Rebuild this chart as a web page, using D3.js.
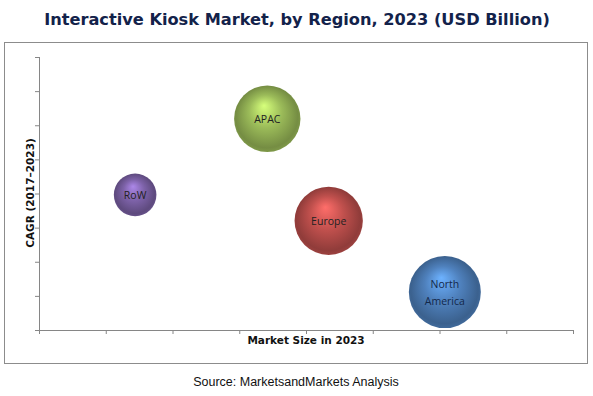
<!DOCTYPE html>
<html>
<head>
<meta charset="utf-8">
<script src="https://cdn.jsdelivr.net/npm/d3@7"></script>
<style>
  body { margin: 0; background: #fff; }
</style>
</head>
<body>
<div id="chart"></div>
<script>
// regions, market size (x), cagr (y), bubble size
var regions = ["RoW", "APAC", "Europe", "North America"];
var marketSize = [1.44, 3.42, 4.34, 6.08];
var cagr = [3.96, 6.19, 3.2, 1.11];
var bubbleSize = [0.35, 0.85, 0.9, 1.0];
var colors = ["#7d62a8", "#9bbb59", "#c0504d", "#4f81bd"];
var xTicks = d3.range(0, 9);
var yTicks = d3.range(0, 9);

var width = 593, height = 396;
var svg = d3.select("#chart").append("svg")
    .attr("width", width)
    .attr("height", height);

// title
svg.append("text")
    .attr("x", 297)
    .attr("y", 25)
    .attr("text-anchor", "middle")
    .style("font-family", "Verdana, 'DejaVu Sans', sans-serif")
    .style("font-weight", "bold")
    .style("font-size", "16.2px")
    .style("fill", "#13224a")
    .text("Interactive Kiosk Market, by Region, 2023 (USD Billion)");

// outer frame
svg.append("rect")
    .attr("x", 4.5).attr("y", 42.5)
    .attr("width", 583).attr("height", 321)
    .style("fill", "none")
    .style("stroke", "#8c8c8c");

var x = d3.scaleLinear().domain([0, 8]).range([39, 573]);
var y = d3.scaleLinear().domain([0, 8]).range([330, 57]);
var r = d3.scaleSqrt().domain([0, 1]).range([0, 36]);

var xAxis = svg.append("g")
    .attr("transform", "translate(0,330)")
    .call(d3.axisBottom(x).tickValues(xTicks).tickSize(4).tickFormat(""));
var yAxis = svg.append("g")
    .attr("transform", "translate(39,0)")
    .call(d3.axisLeft(y).tickValues(yTicks).tickSize(4).tickFormat(""));
svg.selectAll(".domain, .tick line").style("stroke", "#868686");
xAxis.select(".domain").attr("d", "M39,0.5H573");
yAxis.select(".domain").attr("d", "M0.5,57V330");

// axis titles
svg.append("text")
    .attr("x", 306).attr("y", 344)
    .attr("text-anchor", "middle")
    .style("font-family", "'DejaVu Sans', sans-serif")
    .style("font-weight", "bold")
    .style("font-size", "10.5px")
    .style("fill", "#111")
    .text("Market Size in 2023");

svg.append("text")
    .attr("transform", "translate(34,193) rotate(-90)")
    .attr("text-anchor", "middle")
    .style("font-family", "'DejaVu Sans', sans-serif")
    .style("font-weight", "bold")
    .style("font-size", "10.5px")
    .style("fill", "#111")
    .text("CAGR (2017\u20132023)");

// gradients for the spheres
var defs = svg.append("defs");
colors.forEach(function(c, i) {
    var g = defs.append("radialGradient")
        .attr("id", "grad" + i)
        .attr("cx", "50%").attr("cy", "50%").attr("r", "55%")
        .attr("fx", "45%").attr("fy", "30%");
    var base = d3.color(c);
    g.append("stop").attr("offset", "0%").attr("stop-color", base.brighter(0.9));
    g.append("stop").attr("offset", "45%").attr("stop-color", base);
    g.append("stop").attr("offset", "85%").attr("stop-color", base.darker(0.8));
    g.append("stop").attr("offset", "100%").attr("stop-color", base.darker(0.4));
});

var data = regions.map(function(d, i) {
    return { name: d, x: marketSize[i], y: cagr[i], s: bubbleSize[i], i: i };
});

var bubble = svg.selectAll(".bubble")
    .data(data)
    .enter().append("g")
    .attr("class", "bubble")
    .attr("transform", function(d) { return "translate(" + x(d.x) + "," + y(d.y) + ")"; });

bubble.append("circle")
    .attr("r", function(d) { return r(d.s); })
    .style("fill", function(d) { return "url(#grad" + d.i + ")"; });

bubble.append("text")
    .attr("text-anchor", "middle")
    .style("font-family", "'Open Sans', sans-serif")
    .style("font-size", "10.5px")
    .style("fill", function(d) { return d.i == 3 ? "#14284a" : "#222"; })
    .each(function(d) {
        var words = d.name.split(" ");
        var t = d3.select(this);
        words.forEach(function(w, k) {
            t.append("tspan")
                .attr("x", 0)
                .attr("y", (k - (words.length - 1) / 2) * 17 + 4)
                .text(w);
        });
    });

// source
svg.append("text")
    .attr("x", 296).attr("y", 386)
    .attr("text-anchor", "middle")
    .style("font-family", "Arial, 'Liberation Sans', sans-serif")
    .style("font-size", "12.5px")
    .style("fill", "#111")
    .text("Source: MarketsandMarkets Analysis");
</script>
</body>
</html>
